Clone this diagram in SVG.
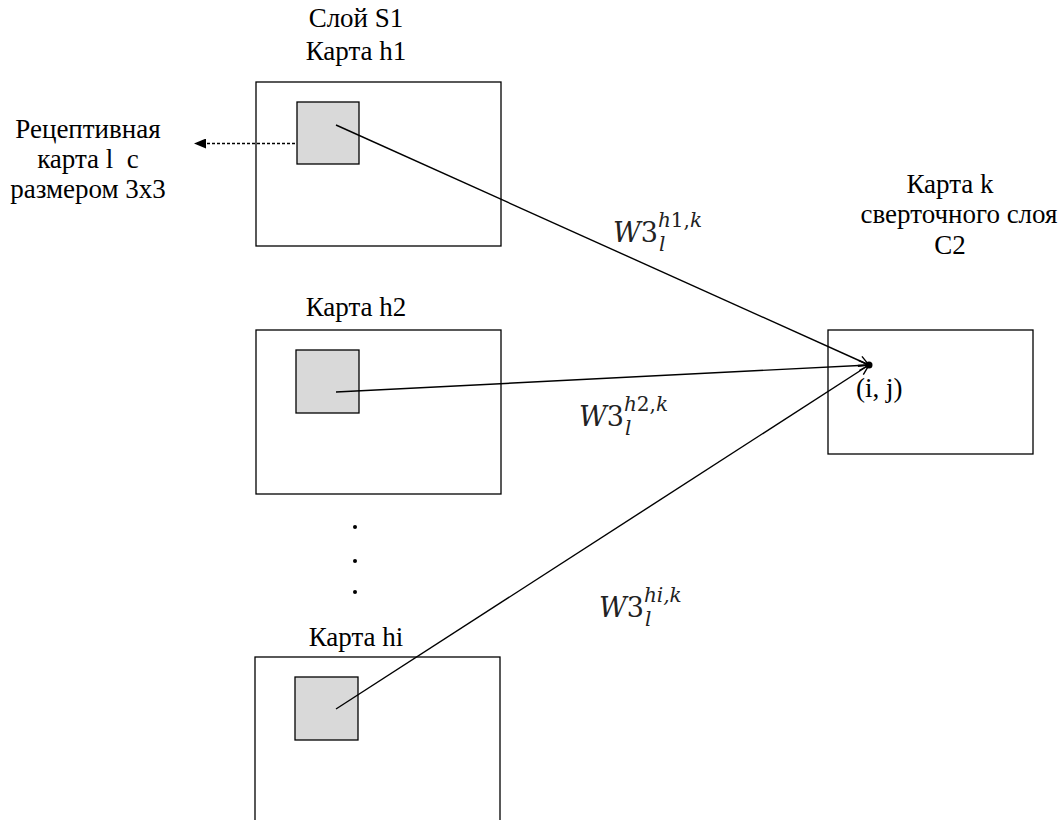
<svg xmlns="http://www.w3.org/2000/svg" width="1061" height="820" viewBox="0 0 1061 820">
  <style>
    .lbl { font-family: "Liberation Serif", "Times New Roman", serif; font-size: 27px; fill: #000; }
    .mid { text-anchor: middle; }
    .map { fill: #fff; stroke: #000; stroke-width: 1.3; }
    .rf { fill: #d9d9d9; stroke: #000; stroke-width: 1.3; }
    .edge { fill: none; stroke: #000; stroke-width: 1.4; }
    .w { font-family: "DejaVu Serif", "Liberation Serif", serif; fill: #222; }
    .big { font-size: 27px; }
    .sm { font-size: 20px; }
    .it { font-style: italic; }
  </style>
  <defs>
    <marker id="open" viewBox="0 0 12 12" refX="11" refY="6" markerWidth="12" markerHeight="12" markerUnits="userSpaceOnUse" orient="auto">
      <path d="M1 1 L11 6 L1 11" fill="none" stroke="#000" stroke-width="1.4"/>
    </marker>
    <marker id="tri" viewBox="0 0 12 10" refX="11" refY="5" markerWidth="12" markerHeight="10" markerUnits="userSpaceOnUse" orient="auto">
      <path d="M0 0 L12 5 L0 10 Z" fill="#000"/>
    </marker>
  </defs>

  <!-- layer S1, map h1 -->
  <g id="map-h1">
    <text class="lbl mid" x="356" y="27">Слой S1</text>
    <text class="lbl mid" x="356" y="60">Карта h1</text>
    <rect class="map" x="256" y="82" width="245" height="164"/>
    <rect class="rf" x="297" y="102" width="62" height="62"/>
  </g>

  <!-- map h2 -->
  <g id="map-h2">
    <text class="lbl mid" x="356" y="316">Карта h2</text>
    <rect class="map" x="256" y="330" width="245" height="164"/>
    <rect class="rf" x="296" y="350" width="63" height="63"/>
  </g>

  <!-- ellipsis between maps -->
  <g id="ellipsis">
    <circle cx="355" cy="527" r="2"/>
    <circle cx="355" cy="561" r="2"/>
    <circle cx="355" cy="592" r="2"/>
  </g>

  <!-- map hi -->
  <g id="map-hi">
    <text class="lbl mid" x="356" y="646">Карта hi</text>
    <rect class="map" x="255" y="657" width="245" height="175"/>
    <rect class="rf" x="295" y="677" width="63" height="63"/>
  </g>

  <!-- receptive field caption -->
  <g id="receptive-label">
    <text class="lbl mid" x="88" y="138">Рецептивная</text>
    <text class="lbl mid" x="88" y="168" xml:space="preserve">карта l  с</text>
    <text class="lbl mid" x="88" y="198">размером 3x3</text>
  </g>

  <!-- convolution layer C2, map k -->
  <g id="map-k">
    <text class="lbl mid" x="950" y="193">Карта k</text>
    <text class="lbl mid" x="959" y="223">сверточного слоя</text>
    <text class="lbl mid" x="950" y="254">C2</text>
    <rect class="map" x="828" y="330" width="205" height="124"/>
    <circle cx="869" cy="365" r="3.5"/>
    <text class="lbl" x="856" y="397">(i, j)</text>
  </g>

  <!-- connectors -->
  <g id="connectors">
    <line class="edge" x1="295" y1="143.5" x2="195" y2="143.5" stroke-dasharray="3 2" marker-end="url(#tri)"/>
    <line class="edge" x1="336" y1="125" x2="869" y2="365" marker-end="url(#open)"/>
    <line class="edge" x1="336" y1="392" x2="869" y2="365" marker-end="url(#open)"/>
    <line class="edge" x1="336" y1="709" x2="869" y2="365" marker-end="url(#open)"/>
  </g>

  <!-- weight labels -->
  <g id="weights">
    <text class="w" x="613" y="242"><tspan class="it big">W</tspan><tspan class="big">3</tspan><tspan class="it sm" dy="-15">h</tspan><tspan class="sm">1,</tspan><tspan class="it sm">k</tspan></text>
    <text class="w it sm" x="659" y="251">l</text>

    <text class="w" x="579" y="426"><tspan class="it big">W</tspan><tspan class="big">3</tspan><tspan class="it sm" dy="-15">h</tspan><tspan class="sm">2,</tspan><tspan class="it sm">k</tspan></text>
    <text class="w it sm" x="625" y="435">l</text>

    <text class="w" x="599" y="617"><tspan class="it big">W</tspan><tspan class="big">3</tspan><tspan class="it sm" dy="-15">hi,k</tspan></text>
    <text class="w it sm" x="645" y="626">l</text>
  </g>
</svg>
